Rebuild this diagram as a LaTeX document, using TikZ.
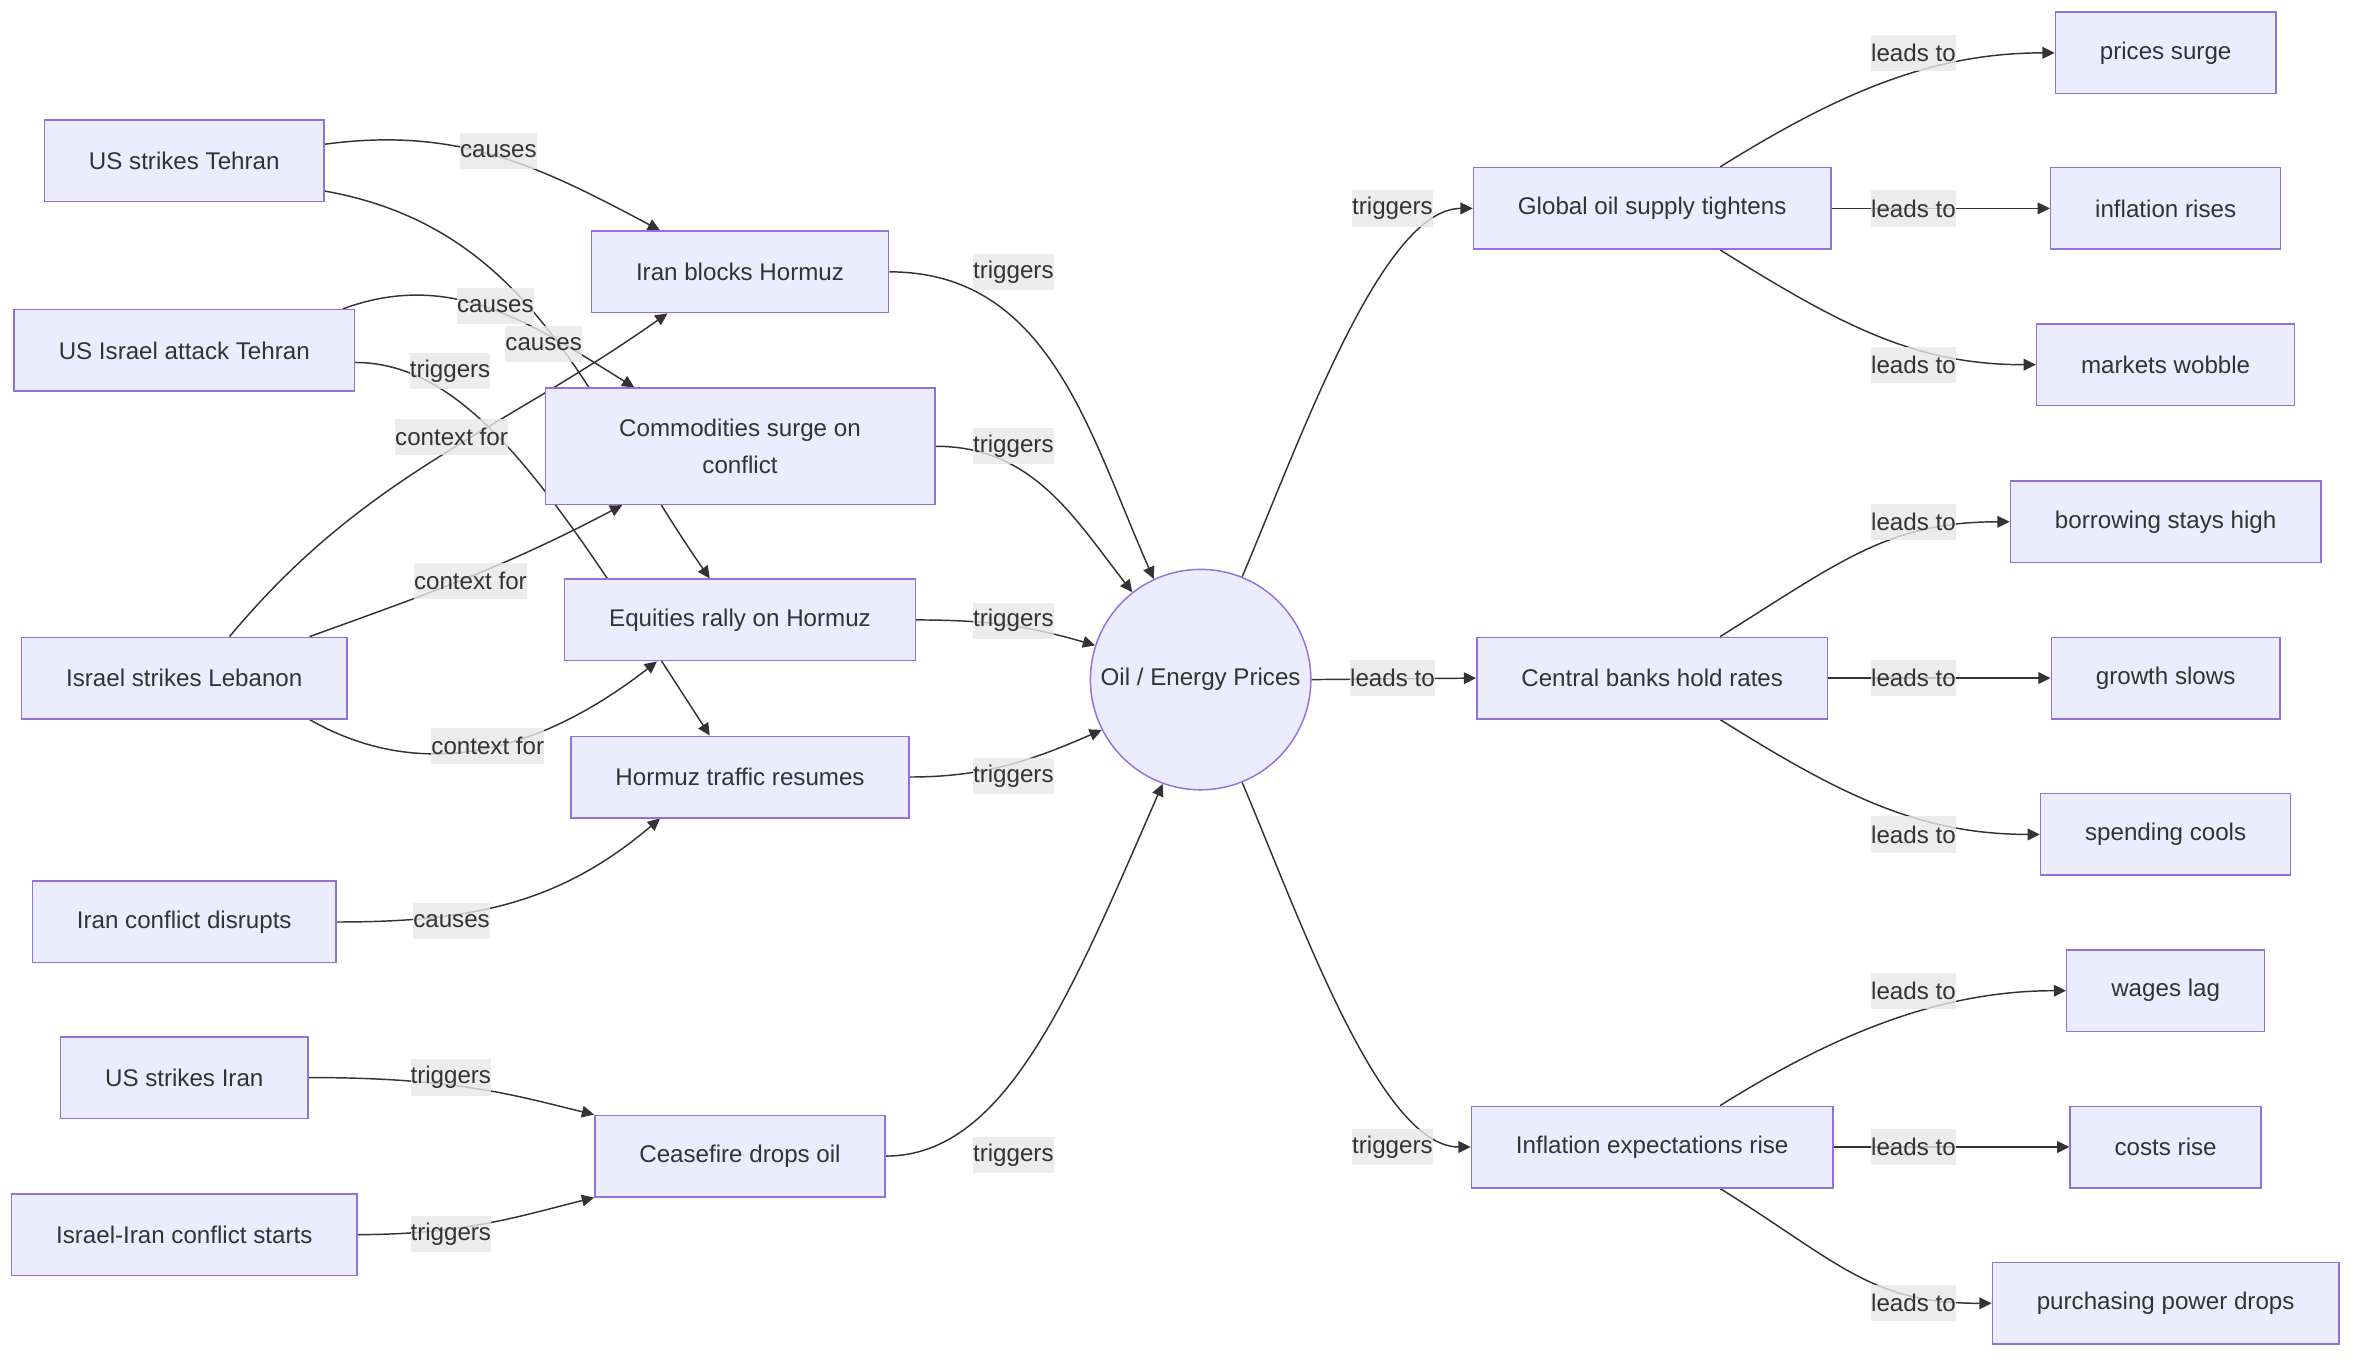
\documentclass[tikz,border=0pt]{standalone}
\usepackage{fontspec}
\setmainfont{Liberation Sans}
\usetikzlibrary{arrows.meta,calc}
\definecolor{flowfill}{HTML}{ECECFF}
\definecolor{flowline}{HTML}{9370DB}
\definecolor{flowtext}{HTML}{333333}
\definecolor{flowedge}{HTML}{333333}
\definecolor{flowlabel}{HTML}{E8E8E8}
\newcommand{\flowfont}{\fontsize{9.1pt}{13.65pt}\selectfont}
\pgfdeclarelayer{edges}
\pgfsetlayers{edges,main}
\tikzset{
  box/.style   ={draw=flowline, fill=flowfill, line width=0.55pt,
                 minimum height=1.08cm, inner xsep=0.59cm, inner ysep=0pt,
                 text=flowtext, font=\flowfont},
  hub/.style   ={box, circle, minimum size=2.92cm, inner sep=0pt},
  tedge/.style ={-{Triangle[length=4.6pt,width=4.4pt]}, draw=flowedge,
                 line width=0.55pt},
  elabel/.style={fill=flowlabel, fill opacity=0.8, text opacity=1,
                 text=flowtext, font=\flowfont, inner sep=0pt,
                 minimum height=0.48cm},
}

\begin{document}
\begin{tikzpicture}[x=0.02cm, y=0.02cm]
  \begin{pgfonlayer}{edges}
    \path[use as bounding box, fill=white] (0,0) rectangle (1568,-904.5);
  \end{pgfonlayer}

  % events
  \node[box] (ust)  at (122,-106.5) {US strikes Tehran};
  \node[box] (uiat) at (122,-232)   {US Israel attack Tehran};
  \node[box] (isl)  at (122,-449)   {Israel strikes Lebanon};
  \node[box] (icd)  at (122,-610.5) {Iran conflict disrupts};
  \node[box] (usi)  at (122,-713.5) {US strikes Iran};
  \node[box] (iics) at (122,-817.5) {Israel-Iran conflict starts};

  % market moves
  \node[box] (ibh) at (490,-180) {Iran blocks Hormuz};
  \node[box, minimum width=5.16cm, minimum height=1.54cm, align=center]
    (csc) at (490,-295.5) {Commodities surge on\\conflict};
  \node[box] (era) at (490,-410.5) {Equities rally on Hormuz};
  \node[box] (htr) at (490,-514.5) {Hormuz traffic resumes};
  \node[box] (cdo) at (490,-765.5) {Ceasefire drops oil};

  \node[hub] (oil) at (795,-450) {Oil / Energy Prices};

  \node[box] (gst) at (1094,-138)   {Global oil supply tightens};
  \node[box] (cbh) at (1094,-449)   {Central banks hold rates};
  \node[box] (iex) at (1094,-759.5) {Inflation expectations rise};

  \node[box] (ps)  at (1434,-35)    {prices surge};
  \node[box] (ir)  at (1434,-138)   {inflation rises};
  \node[box] (mw)  at (1434,-241.5) {markets wobble};
  \node[box] (bsh) at (1434,-345.5) {borrowing stays high};
  \node[box] (gs)  at (1434,-449)   {growth slows};
  \node[box] (sc)  at (1434,-552.5) {spending cools};
  \node[box] (wl)  at (1434,-656)   {wages lag};
  \node[box] (cr)  at (1434,-759.5) {costs rise};
  \node[box] (ppd) at (1434,-863)   {purchasing power drops};

  \begin{pgfonlayer}{edges}
    \draw[tedge] ($(ust.east)+(0,11)$) .. controls +(89,12) and +(-79,42)
      .. ($(ibh.north)+(-53,0)$);
    \draw[tedge] ($(ust.east)+(0,-20)$) .. controls +(140,-25) and +(-81,116)
      .. ($(era.north)+(-20,0)$);
    \draw[tedge] ($(uiat.north east)+(-8,0)$) .. controls +(73,27) and +(-66,41)
      .. ($(csc.north)+(-70,0)$);
    \draw[tedge] ($(uiat.east)+(0,-8)$) .. controls +(80,0) and +(-98,151)
      .. ($(htr.north)+(-20,0)$);
    \draw[tedge] ($(isl.north)+(30,0)$) .. controls +(90,108) and +(-115,-81)
      .. ($(ibh.south)+(-48,0)$);
    \draw[tedge] ($(isl.north)+(83,0)$) .. controls +(83,30) and +(-78,-41)
      .. ($(csc.south)+(-78,0)$);
    \draw[tedge] ($(isl.south)+(83,0)$) .. controls +(79,-45) and +(-72,-56)
      .. ($(era.south)+(-55,0)$);
    \draw[tedge] (icd.east) .. controls +(88,0) and +(-67,-57)
      .. ($(htr.south)+(-53,0)$);
    \draw[tedge] (usi.east) .. controls +(100,0) and +(-50,12)
      .. (cdo.north west);
    \draw[tedge] (iics.east) .. controls +(70,0) and +(-50,-12.5)
      .. (cdo.south west);

    \draw[tedge] (ibh.east) .. controls +(106,0) and +(-43,97) .. (oil.115);
    \draw[tedge] (csc.east) .. controls +(64,0) and +(-39,50) .. (oil.128);
    \draw[tedge] (era.east) .. controls +(47,0) and +(-45,13) .. (oil.162);
    \draw[tedge] (htr.east) .. controls +(50,0) and +(-46,-20) .. (oil.207);
    \draw[tedge] (cdo.east) .. controls +(80,0) and +(-60,-137) .. (oil.250);

    \draw[tedge] (oil.68) .. controls +(39,92) and +(-60,0) .. (gst.west);
    \draw[tedge] (oil.east) -- (cbh.west);
    \draw[tedge] (oil.292) .. controls +(39,-92) and +(-60,0) .. (iex.west);

    \draw[tedge] ($(gst.north)+(45,0)$) .. controls +(80,50) and +(-80,0) .. (ps.west);
    \draw[tedge] (gst.east) -- (ir.west);
    \draw[tedge] ($(gst.south)+(45,0)$) .. controls +(80,-50) and +(-80,0) .. (mw.west);
    \draw[tedge] ($(cbh.north)+(45,0)$) .. controls +(80,50) and +(-80,0) .. (bsh.west);
    \draw[tedge] (cbh.east) -- (gs.west);
    \draw[tedge] ($(cbh.south)+(45,0)$) .. controls +(80,-50) and +(-80,0) .. (sc.west);
    \draw[tedge] ($(iex.north)+(45,0)$) .. controls +(80,50) and +(-80,0) .. (wl.west);
    \draw[tedge] (iex.east) -- (cr.west);
    \draw[tedge] ($(iex.south)+(45,0)$) .. controls +(80,-50) and +(-80,0) .. (ppd.west);
  \end{pgfonlayer}

  % edge labels
  \node[elabel] (lb1)  at (330,-100)   {causes};
  \node[elabel] (lb2)  at (328,-202.5) {causes};
  \node[elabel] (lb3)  at (360,-228)   {causes};
  \node[elabel] (lb4)  at (298,-245.5) {triggers};
  \node[elabel] (lb5)  at (299,-289.5) {context for};
  \node[elabel] (lb6)  at (311.5,-384.5) {context for};
  \node[elabel] (lb7)  at (323,-494)   {context for};
  \node[elabel] (lb8)  at (299,-610)   {causes};
  \node[elabel] (lb9)  at (298.5,-713.5) {triggers};
  \node[elabel] (lb10) at (298.5,-817) {triggers};

  \node[elabel] (lb11) at (671,-180)   {triggers};
  \node[elabel] (lb12) at (671,-295.5) {triggers};
  \node[elabel] (lb13) at (671,-411)   {triggers};
  \node[elabel] (lb14) at (671,-514)   {triggers};
  \node[elabel] (lb15) at (671,-765)   {triggers};

  \node[elabel] (lb16) at (922,-138)   {triggers};
  \node[elabel] (lb17) at (922,-449)   {leads to};
  \node[elabel] (lb18) at (922,-759.5) {triggers};

  \node[elabel] (lb19) at (1267,-35)    {leads to};
  \node[elabel] (lb20) at (1267,-138)   {leads to};
  \node[elabel] (lb21) at (1267,-241.5) {leads to};
  \node[elabel] (lb22) at (1267,-345.5) {leads to};
  \node[elabel] (lb23) at (1267,-449)   {leads to};
  \node[elabel] (lb24) at (1267,-552.5) {leads to};
  \node[elabel] (lb25) at (1267,-656)   {leads to};
  \node[elabel] (lb26) at (1267,-759.5) {leads to};
  \node[elabel] (lb27) at (1267,-863)   {leads to};
\end{tikzpicture}
\end{document}
